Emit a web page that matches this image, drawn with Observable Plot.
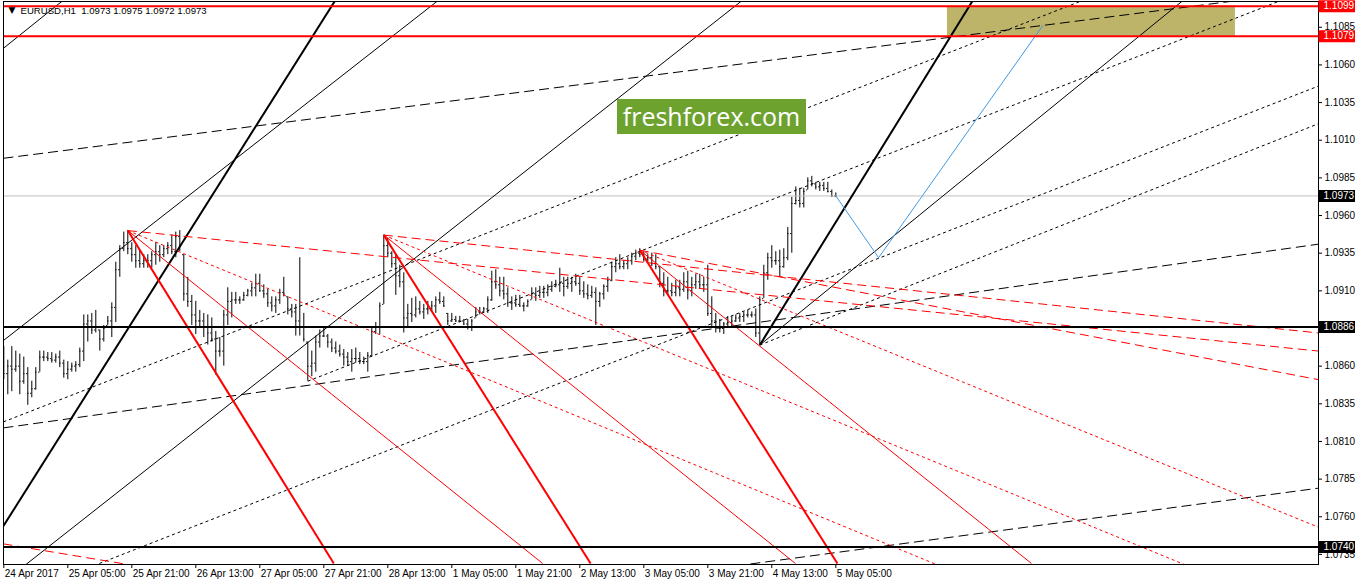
<!DOCTYPE html>
<html><head><meta charset="utf-8">
<script src="https://cdn.jsdelivr.net/npm/d3@7"></script>
<script src="https://cdn.jsdelivr.net/npm/@observablehq/plot@0.6"></script>
<style>
body{margin:0;background:#fff;}
#wrap{position:relative;width:1358px;height:584px;overflow:hidden;}
#logo{position:absolute;left:617px;top:99px;width:189px;height:35px;background:#6ea22f;color:#fff;font:25px "Open Sans",sans-serif;text-align:center;line-height:35px;z-index:2;}
</style></head><body><div id="wrap"><div id="logo">freshforex.com</div></div>
<script>
// ---- data ----
const symbol = "EURUSD,H1";
const highs = [1.0873,1.0864,1.0873,1.0870,1.0868,1.0866,1.0859,1.0850,1.0859,1.0870,
1.0870,1.0869,1.0869,1.0868,1.0870,1.0864,1.0863,1.0862,1.0863,1.0872,
1.0894,1.0894,1.0895,1.0897,1.0884,1.0887,1.0893,1.0902,1.0929,1.0940,
1.0949,1.0950,1.0942,1.0940,1.0937,1.0934,1.0934,1.0936,1.0942,1.0940,
1.0940,1.0942,1.0947,1.0949,1.0950,1.0934,1.0919,1.0907,1.0903,1.0897,
1.0895,1.0894,1.0892,1.0883,1.0879,1.0897,1.0912,1.0909,1.0909,1.0906,
1.0909,1.0911,1.0915,1.0921,1.0921,1.0914,1.0911,1.0906,1.0906,1.0911,
1.0919,1.0906,1.0901,1.0901,1.0932,1.0895,1.0876,1.0870,1.0880,1.0884,
1.0886,1.0881,1.0878,1.0876,1.0874,1.0871,1.0869,1.0871,1.0872,1.0869,
1.0866,1.0869,1.0885,1.0889,1.0902,1.0947,1.0945,1.0936,1.0934,1.0927,
1.0922,1.0901,1.0905,1.0906,1.0903,1.0901,1.0903,1.0903,1.0906,1.0909,
1.0906,1.0895,1.0895,1.0893,1.0893,1.0891,1.0891,1.0891,1.0899,1.0899,
1.0899,1.0906,1.0923,1.0924,1.0919,1.0919,1.0912,1.0906,1.0907,1.0907,
1.0902,1.0904,1.0912,1.0912,1.0913,1.0913,1.0914,1.0916,1.0917,1.0925,
1.0919,1.0919,1.0919,1.0921,1.0919,1.0916,1.0914,1.0913,1.0912,1.0909,
1.0914,1.0919,1.0929,1.0932,1.0934,1.0930,1.0932,1.0935,1.0937,1.0938,
1.0936,1.0934,1.0935,1.0934,1.0926,1.0922,1.0919,1.0915,1.0917,1.0917,
1.0922,1.0923,1.0919,1.0921,1.0921,1.0919,1.0927,1.0906,1.0895,1.0891,
1.0889,1.0893,1.0893,1.0894,1.0895,1.0896,1.0897,1.0896,1.0898,1.0906,
1.0927,1.0935,1.0940,1.0936,1.0937,1.0938,1.0952,1.0972,1.0979,1.0978,
1.0978,1.0985,1.0986,1.0982,1.0982,1.0982,1.0982,1.0977,1.0975];
const lows = [1.0851,1.0841,1.0843,1.0856,1.0841,1.0848,1.0834,1.0839,1.0844,1.0856,
1.0863,1.0863,1.0862,1.0862,1.0859,1.0852,1.0851,1.0856,1.0856,1.0859,
1.0863,1.0876,1.0881,1.0882,1.0870,1.0876,1.0887,1.0879,1.0889,1.0919,
1.0936,1.0934,1.0929,1.0925,1.0925,1.0925,1.0925,1.0925,1.0927,1.0929,
1.0932,1.0934,1.0934,1.0932,1.0936,1.0903,1.0899,1.0887,1.0881,1.0885,
1.0879,1.0874,1.0876,1.0854,1.0866,1.0860,1.0887,1.0892,1.0901,1.0901,
1.0903,1.0906,1.0906,1.0906,1.0909,1.0905,1.0899,1.0896,1.0895,1.0901,
1.0906,1.0894,1.0892,1.0880,1.0880,1.0876,1.0850,1.0853,1.0856,1.0872,
1.0879,1.0872,1.0869,1.0868,1.0866,1.0860,1.0860,1.0856,1.0862,1.0861,
1.0861,1.0856,1.0866,1.0881,1.0881,1.0901,1.0932,1.0925,1.0907,1.0912,
1.0882,1.0885,1.0889,1.0892,1.0894,1.0891,1.0894,1.0896,1.0895,1.0901,
1.0899,1.0887,1.0889,1.0889,1.0889,1.0887,1.0884,1.0883,1.0892,1.0894,
1.0895,1.0895,1.0903,1.0911,1.0906,1.0904,1.0899,1.0897,1.0899,1.0899,
1.0896,1.0899,1.0904,1.0903,1.0905,1.0905,1.0906,1.0909,1.0912,1.0909,
1.0906,1.0911,1.0909,1.0913,1.0907,1.0905,1.0904,1.0905,1.0887,1.0899,
1.0904,1.0909,1.0916,1.0922,1.0924,1.0924,1.0924,1.0927,1.0930,1.0932,
1.0929,1.0929,1.0926,1.0924,1.0912,1.0906,1.0907,1.0906,1.0906,1.0906,
1.0909,1.0904,1.0906,1.0911,1.0911,1.0909,1.0893,1.0886,1.0882,1.0882,
1.0881,1.0886,1.0885,1.0889,1.0889,1.0889,1.0892,1.0892,1.0879,1.0874,
1.0905,1.0917,1.0925,1.0927,1.0919,1.0925,1.0930,1.0935,1.0967,1.0965,
1.0965,1.0977,1.0979,1.0977,1.0976,1.0976,1.0975,1.0972,1.0972];
const closes = [1.0855,1.0860,1.0858,1.0860,1.0850,1.0855,1.0842,1.0845,1.0856,1.0866,
1.0866,1.0865,1.0864,1.0866,1.0862,1.0855,1.0858,1.0860,1.0861,1.0870,
1.0888,1.0890,1.0884,1.0886,1.0878,1.0885,1.0890,1.0899,1.0924,1.0938,
1.0942,1.0938,1.0934,1.0930,1.0928,1.0930,1.0930,1.0934,1.0936,1.0934,
1.0938,1.0940,1.0936,1.0946,1.0940,1.0908,1.0903,1.0894,1.0890,1.0890,
1.0886,1.0882,1.0878,1.0870,1.0870,1.0894,1.0903,1.0904,1.0904,1.0904,
1.0907,1.0910,1.0912,1.0915,1.0910,1.0908,1.0902,1.0900,1.0904,1.0909,
1.0908,1.0898,1.0896,1.0890,1.0886,1.0878,1.0860,1.0862,1.0876,1.0880,
1.0880,1.0876,1.0872,1.0870,1.0868,1.0866,1.0863,1.0865,1.0865,1.0863,
1.0863,1.0867,1.0883,1.0886,1.0900,1.0940,1.0935,1.0928,1.0920,1.0916,
1.0892,1.0895,1.0894,1.0898,1.0896,1.0898,1.0898,1.0900,1.0904,1.0903,
1.0900,1.0890,1.0891,1.0890,1.0890,1.0888,1.0886,1.0890,1.0896,1.0896,
1.0898,1.0904,1.0916,1.0914,1.0910,1.0908,1.0902,1.0902,1.0901,1.0900,
1.0900,1.0903,1.0908,1.0907,1.0909,1.0909,1.0911,1.0913,1.0914,1.0915,
1.0913,1.0915,1.0916,1.0915,1.0910,1.0908,1.0907,1.0909,1.0903,1.0908,
1.0913,1.0917,1.0926,1.0928,1.0926,1.0928,1.0930,1.0933,1.0935,1.0934,
1.0931,1.0932,1.0928,1.0926,1.0915,1.0910,1.0910,1.0909,1.0912,1.0911,
1.0916,1.0910,1.0914,1.0916,1.0914,1.0914,1.0895,1.0890,1.0886,1.0885,
1.0888,1.0889,1.0890,1.0892,1.0893,1.0894,1.0894,1.0894,1.0882,1.0904,
1.0922,1.0932,1.0930,1.0930,1.0926,1.0932,1.0948,1.0968,1.0970,1.0968,
1.0976,1.0983,1.0981,1.0979,1.0980,1.0978,1.0976,1.0973,1.0973];
const firstOpen = 1.0860;
const lastOpen = 1.0973;

const timeLabels = ["24 Apr 2017","25 Apr 05:00","25 Apr 21:00","26 Apr 13:00","27 Apr 05:00","27 Apr 21:00","28 Apr 13:00","1 May 05:00","1 May 21:00","2 May 13:00","3 May 05:00","3 May 21:00","4 May 13:00","5 May 05:00"];
const timeLabelBars = [0,16,32,48,64,80,96,112,128,144,160,176,192,208];

const priceTicks = [1.1085,1.1060,1.1035,1.1010,1.0985,1.0960,1.0935,1.0910,1.0860,1.0835,1.0810,1.0785,1.0760,1.0735];
const levelPrices = [1.1099,1.1079,1.0886,1.0740];
const levelColors = ["#ff0000","#ff0000","#000000","#000000"];
const bidPrice = 1.0973;

// target zone (bars, prices)
const zoneBars = [235.9, 307.9];
const zonePrices = [1.1079, 1.1099];

// trend/fan lines: [bar1, price1, bar2, price2]
const blackThick = [[-6.0,1.0729,82.9,1.1103],[189,1.0874,242.3,1.1103]];
const blackThin = [[189,1.0874,294.9,1.1103],[-0.1,1.0877,108.7,1.1103],[-0.1,1.1071,14.9,1.1103],[5.4,1.0728,184.7,1.1103]];
const blackDotted = [[189,1.0874,328.7,1.1021],[-0.1,1.0823,269.9,1.1103],[23.9,1.0729,328.7,1.1046],[76,1.0850,319.5,1.1103]];
const blackDashed = [[-0.1,1.0819,328.7,1.0941],[179.2,1.0726,328.7,1.0779],[-0.1,1.0998,309.2,1.1103]];
const redThick = [[31,1.0950,82.5,1.0729],[95,1.0947,146.7,1.0729],[159,1.0937,208.4,1.0729]];
const redThin = [[31,1.0950,134.7,1.0729],[95,1.0947,197.9,1.0729],[159,1.0937,256.9,1.0729]];
const redDashed = [[31,1.0950,328.7,1.0870],[95,1.0947,328.7,1.0882],[159,1.0937,328.7,1.0851],[-0.1,1.0742,31.7,1.0728]];
const redDotted = [[159,1.0937,328.7,1.0753],[31,1.0950,233.4,1.0728],[95,1.0947,295.4,1.0728]];
const projBars = [208, 218.7, 259.7];
const projPrices = [1.0973, 1.0932, 1.1086];

// ---- build ----
const xDom = [-0.075, 328.67];
const yDom = [1.07283, 1.11021];
const bars = highs.map((h,i)=>{
  const prevC = i===0 ? firstOpen : closes[i-1];
  let o = i===highs.length-1 ? lastOpen : prevC;
  o = Math.max(lows[i], Math.min(h, o));
  return {i, h, l: lows[i], o, c: closes[i]};
});
const seg = (arr)=>arr.map(d=>({x1:d[0],y1:d[1],x2:d[2],y2:d[3]}));
const lk = (arr, opts)=>Plot.link(seg(arr), {x1:"x1",y1:"y1",x2:"x2",y2:"y2",clip:true,...opts});
const last = bars[bars.length-1];
const title = `${symbol}  ${last.o.toFixed(4)} ${last.h.toFixed(4)} ${last.l.toFixed(4)} ${last.c.toFixed(4)}`;
const proj = projBars.map((b,k)=>({x:b,y:projPrices[k]}));
const levels = levelPrices.map((p,k)=>({p, c: levelColors[k]}));
const pxBar = (xDom[1]-xDom[0])/1315;   // data units per pixel (x)
const pxPrice = (yDom[1]-yDom[0])/563;  // data units per pixel (y)

const chart = Plot.plot({
  width: 1358, height: 584,
  marginLeft: 3, marginRight: 40, marginTop: 1, marginBottom: 20,
  style: {fontFamily: "'Liberation Sans', Arial, sans-serif", fontSize: "10px", background: "#fff", overflow: "visible"},
  x: {domain: xDom, axis: null},
  y: {domain: yDom, axis: null},
  marks: [
    Plot.rect([0], {x1: zoneBars[0], x2: zoneBars[1], y1: zonePrices[0], y2: zonePrices[1], fill: "#bdb46a", clip: true}),
    // bars
    Plot.ruleX(bars, {x: "i", y1: "l", y2: "h", stroke: "#000", strokeWidth: 1, clip: true}),
    Plot.ruleY(bars, {y: "o", x1: d=>d.i - 1.2*pxBar, x2: "i", stroke: "#000", clip: true}),
    Plot.ruleY(bars, {y: "c", x1: "i", x2: d=>d.i + 1.2*pxBar, stroke: "#000", clip: true}),
    Plot.ruleY([bidPrice], {stroke: "#c0c0c0", strokeWidth: 1}),
    // lines
    lk(blackDashed, {stroke: "#000", strokeWidth: 1, strokeDasharray: "10,5"}),
    lk(blackDotted, {stroke: "#000", strokeWidth: 1, strokeDasharray: "3,3"}),
    lk(blackThin, {stroke: "#000", strokeWidth: 1}),
    lk(blackThick, {stroke: "#000", strokeWidth: 2}),
    lk(redDashed, {stroke: "#ff0000", strokeWidth: 1, strokeDasharray: "9,5"}),
    lk(redDotted, {stroke: "#ff0000", strokeWidth: 1, strokeDasharray: "3,3"}),
    lk(redThin, {stroke: "#ff0000", strokeWidth: 1}),
    lk(redThick, {stroke: "#ff0000", strokeWidth: 2}),
    Plot.line(proj, {x: "x", y: "y", stroke: "#3d9ae8", strokeWidth: 1, clip: true}),
    Plot.ruleY(levels, {y: "p", stroke: "c", strokeWidth: 2}),
    Plot.frame({stroke: "#000"}),
    // price axis
    Plot.ruleY(priceTicks, {y: d=>d, x1: xDom[1], x2: xDom[1] + 4*pxBar, stroke: "#000"}),
    Plot.text(priceTicks, {y: d=>d, frameAnchor: "right", dx: 6, textAnchor: "start", text: d=>d.toFixed(4), fill: "#000"}),
    Plot.ruleY(levels, {y: "p", x1: xDom[1] + 0.5*pxBar, x2: xDom[1] + 37*pxBar, stroke: "c", strokeWidth: 12}),
    Plot.text(levels, {y: "p", frameAnchor: "right", dx: 5, textAnchor: "start", text: d=>d.p.toFixed(4), fill: "#fff"}),
    Plot.ruleY([bidPrice], {y: d=>d, x1: xDom[1] + 0.5*pxBar, x2: xDom[1] + 37*pxBar, stroke: "#000", strokeWidth: 12}),
    Plot.text([bidPrice], {y: d=>d, frameAnchor: "right", dx: 5, textAnchor: "start", text: d=>d.toFixed(4), fill: "#fff"}),
    // time axis
    Plot.ruleX(timeLabelBars, {x: d=>d, y1: yDom[0], y2: yDom[0] - 4*pxPrice, stroke: "#000"}),
    Plot.text(timeLabels, {x: (d,k)=>timeLabelBars[k], frameAnchor: "bottom", dy: 12, dx: 1, textAnchor: "start", text: d=>d, fill: "#000"}),
    // title
    Plot.text(["\u25BC"], {frameAnchor: "top-left", dx: 5, dy: 9, lineAnchor: "middle", textAnchor: "start", fontSize: 9, fontFamily: "DejaVu Sans", fill: "#000"}),
    Plot.text([title], {frameAnchor: "top-left", dx: 17, dy: 9, lineAnchor: "middle", textAnchor: "start", fontSize: 9.6, fill: "#000"})
  ]
});
chart.style.position = "absolute";
chart.style.left = "0"; chart.style.top = "0";
document.getElementById("wrap").prepend(chart);
</script>
</body></html>
